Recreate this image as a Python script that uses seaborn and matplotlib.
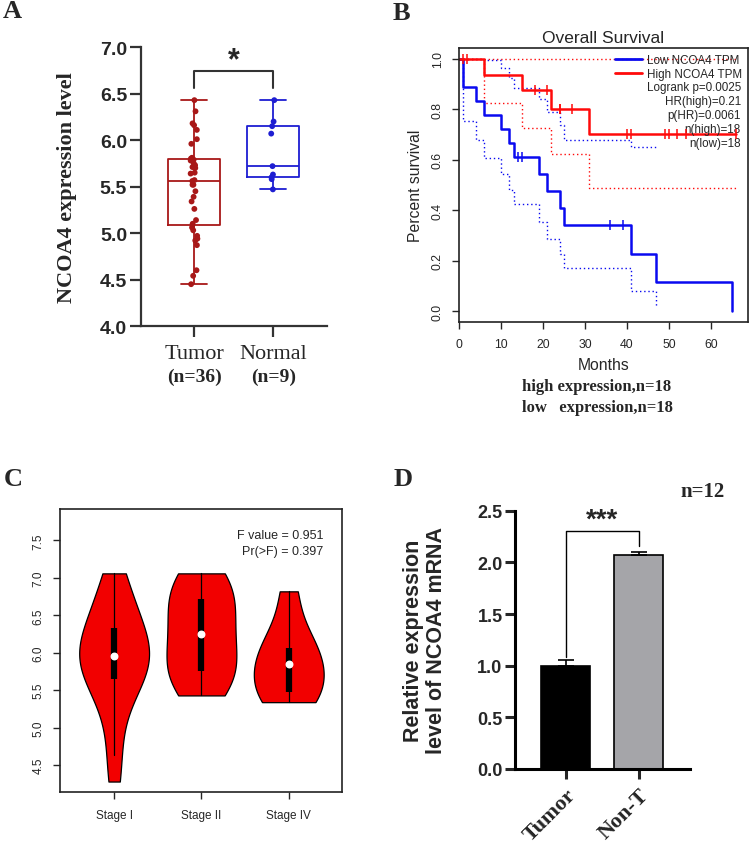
import numpy as np
import pandas as pd
import matplotlib
matplotlib.use('Agg')
import matplotlib.pyplot as plt
import seaborn as sns
from matplotlib.lines import Line2D
from matplotlib import cbook

sns.set_style('ticks')
plt.rcParams['font.family'] = ['Liberation Sans', 'DejaVu Sans']
SERIF = ['Liberation Serif', 'DejaVu Serif']

# ---- A: NCOA4 expression, tumor vs normal
groups_a = ['Tumor', 'Normal']
n_labels_a = ['(n=36)', '(n=9)']
tumor_expr = [6.43, 6.31, 6.18, 6.16, 6.11, 6.01, 5.96, 5.81, 5.80, 5.79, 5.78, 5.75,
              5.73, 5.71, 5.70, 5.65, 5.64, 5.57, 5.56, 5.52, 5.52, 5.45, 5.39, 5.34,
              5.26, 5.14, 5.10, 5.06, 5.03, 4.97, 4.94, 4.92, 4.87, 4.60, 4.54, 4.45]
normal_expr = [6.43, 6.20, 6.15, 6.07, 5.72, 5.63, 5.60, 5.58, 5.47]
colors_a = ['#A81818', '#1E1ED2']

# ---- B: overall survival (months, 1 = death, 0 = censored)
low_time = [1, 1, 4, 6, 10, 12, 13, 14, 15, 19, 21, 24, 25, 36, 39, 41, 47, 65]
low_event = [1, 1, 1, 1, 1, 1, 1, 0, 0, 1, 1, 1, 1, 0, 0, 1, 1, 1]
high_time = [1, 2, 6, 15, 18, 21, 22, 24, 24, 27, 31, 40, 41, 49, 50, 52, 54, 66]
high_event = [0, 0, 1, 1, 0, 0, 1, 0, 0, 0, 1, 0, 0, 0, 0, 0, 0, 0]
stats_b = ['Logrank p=0.0025', 'HR(high)=0.21', 'p(HR)=0.0061', 'n(high)=18', 'n(low)=18']

# ---- C: expression by stage
stages = ['Stage I', 'Stage II', 'Stage IV']
stage_i = [4.28, 4.64, 5.10, 5.40, 5.60, 5.67, 5.72, 5.80, 5.88, 5.93,
           5.99, 6.05, 6.12, 6.20, 6.30, 6.42, 6.55, 6.70, 6.88, 7.06]
stage_ii = [5.43, 5.58, 5.68, 5.76, 5.92, 6.08, 6.25, 6.38, 6.55, 6.72, 6.85, 6.96, 7.06]
stage_iv = [5.34, 5.40, 5.48, 5.65, 5.85, 5.95, 6.06, 6.30, 6.82]

# ---- D: qPCR
groups_d = ['Tumor', 'Non-T']
mrna_mean = [1.00, 2.07]
mrna_err = [0.055, 0.035]


def km_table(time, event):
    d = pd.DataFrame({'t': time, 'e': event}).sort_values('t')
    s, v = 1.0, 0.0
    steps = [(0.0, 1.0, 0.0)]
    cens = []
    for t, g in d.groupby('t'):
        n = (d['t'] >= t).sum()
        k = g['e'].sum()
        if k > 0:
            s *= 1 - k / n
            v = v + k / (n * (n - k)) if n > k else np.nan
            steps.append((t, s, v))
        for _ in range(int((g['e'] == 0).sum())):
            cens.append((t, s))
    steps.append((d['t'].max(), s, v))
    curve = pd.DataFrame(steps, columns=['t', 's', 'v'])
    se = np.sqrt(curve['v'])
    curve['lo'] = curve['s'] * np.exp(-1.96 * se)
    curve['hi'] = np.minimum(1.0, curve['s'] * np.exp(1.96 * se))
    return curve, pd.DataFrame(cens, columns=['t', 's'])


fig = plt.figure(figsize=(7.5, 8.45), dpi=100)

# ================= A =================
ax = fig.add_axes([0.188, 0.613, 0.248, 0.330])
df_a = pd.DataFrame({'group': ['Tumor'] * len(tumor_expr) + ['Normal'] * len(normal_expr),
                     'expr': tumor_expr + normal_expr})
sns.boxplot(data=df_a, x='group', y='expr', hue='group', order=groups_a, palette=colors_a,
            fill=False, whis=(0, 100), width=0.65, linewidth=1.3, showfliers=False,
            legend=False, ax=ax)
np.random.seed(3)
sns.stripplot(data=df_a, x='group', y='expr', hue='group', order=groups_a, palette=colors_a,
              jitter=0.045, size=4.2, legend=False, ax=ax, zorder=4)
ax.set_xlim(-0.67, 1.68)
ax.set_ylim(4.0, 7.0)
ax.set_yticks(np.arange(4.0, 7.01, 0.5))
ax.set_yticklabels([f'{t:.1f}' for t in np.arange(4.0, 7.01, 0.5)],
                   fontsize=14, fontweight='bold')
ax.set_xticks([0, 1])
ax.set_xticklabels([])
ax.set_xlabel('')
ax.set_ylabel('NCOA4 expression level', fontsize=16, fontweight='bold', family=SERIF)
ax.yaxis.set_label_coords(-0.344, 0.5)
sns.despine(ax=ax)
for sp in ['left', 'bottom']:
    ax.spines[sp].set_linewidth(1.6)
    ax.spines[sp].set_color('#333333')
ax.tick_params(length=8, width=1.6, color='#333333', pad=2)
for i, (g, nl) in enumerate(zip(groups_a, n_labels_a)):
    ax.text(i, -0.097, g, transform=ax.get_xaxis_transform(), ha='center', va='center',
            fontsize=16, family=SERIF)
    ax.text(i, -0.18, nl, transform=ax.get_xaxis_transform(), ha='center', va='center',
            fontsize=14, fontweight='bold', family=SERIF)
ax.plot([0, 0, 1, 1], [6.56, 6.74, 6.74, 6.56], color='#333333', lw=1.5, clip_on=False)
ax.text(0.5, 6.86, '*', ha='center', va='center', fontsize=22, fontweight='bold')

# ================= B =================
ax = fig.add_axes([0.612, 0.618, 0.385, 0.324])
low_curve, low_cens = km_table(low_time, low_event)
high_curve, high_cens = km_table(high_time, high_event)
blue, red = '#0A0AF0', '#FF0A0A'
for curve, col in [(high_curve, red), (low_curve, blue)]:
    ci = curve.dropna(subset=['lo'])
    ci = ci[ci['s'] > 0]
    for key in ['lo', 'hi']:
        sns.lineplot(data=ci, x='t', y=key, drawstyle='steps-post', estimator=None, sort=False,
                     color=col, lw=1.0, linestyle=(0, (1, 2)), ax=ax)
for curve, cens, col in [(low_curve, low_cens, blue), (high_curve, high_cens, red)]:
    sns.lineplot(data=curve, x='t', y='s', drawstyle='steps-post', estimator=None, sort=False,
                 color=col, lw=1.8, ax=ax)
    sns.scatterplot(data=cens, x='t', y='s', marker='|', s=55, linewidth=1.1, color=col,
                    ax=ax, zorder=5)
ax.set_xlim(0, 68.8)
ax.set_ylim(-0.043, 1.043)
ax.set_xticks(range(0, 61, 10))
ax.set_xticklabels([str(t) for t in range(0, 61, 10)], fontsize=8.8)
ax.set_yticks(np.arange(0, 1.01, 0.2))
ax.set_yticklabels([f'{t:.1f}' for t in np.arange(0, 1.01, 0.2)], fontsize=8.8,
                   rotation=90, va='center')
ax.tick_params(length=5, width=1, pad=6)
ax.tick_params(axis='x', pad=7)
for sp in ax.spines.values():
    sp.set_linewidth(1.2)
    sp.set_color('#222222')
ax.set_title('Overall Survival', fontsize=12.5, pad=4)
ax.set_xlabel('Months', fontsize=11.3, labelpad=5)
ax.set_ylabel('Percent survival', fontsize=11.3, labelpad=6)
handles = [Line2D([], [], color=blue, lw=2), Line2D([], [], color=red, lw=2)]
ax.legend(handles, ['Low NCOA4 TPM', 'High NCOA4 TPM'], loc='upper right', frameon=False,
          fontsize=8.4, handlelength=2.3, handletextpad=0.4, labelspacing=0.15,
          borderaxespad=0.3, borderpad=0.2)
for i, line in enumerate(stats_b):
    ax.text(0.976, 0.858 - i * 0.0515, line, ha='right', va='center', fontsize=8.4,
            transform=ax.transAxes)

fig.text(522 / 750, 1 - 387 / 845, 'high expression,n=18', ha='left', va='center',
         fontsize=12, fontweight='bold', family=SERIF)
fig.text(522 / 750, 1 - 408 / 845, 'low   expression,n=18', ha='left', va='center',
         fontsize=12, fontweight='bold', family=SERIF)

# ================= C =================
ax = fig.add_axes([0.08, 0.0615, 0.376, 0.335])
df_c = pd.DataFrame({'stage': ['Stage I'] * len(stage_i) + ['Stage II'] * len(stage_ii)
                     + ['Stage IV'] * len(stage_iv),
                     'expr': stage_i + stage_ii + stage_iv})
sns.violinplot(data=df_c, x='stage', y='expr', order=stages, inner=None, cut=0,
               density_norm='width', width=0.8, color='#F20000', saturation=1,
               linecolor='black', linewidth=0.9, bw_adjust=1.06, ax=ax)
for i, vals in enumerate([stage_i, stage_ii, stage_iv]):
    st = cbook.boxplot_stats(np.array(vals))[0]
    ax.plot([i, i], [st['whislo'], st['whishi']], color='black', lw=0.9)
    ax.plot([i, i], [st['q1'], st['q3']], color='black', lw=4.5, solid_capstyle='butt')
    ax.scatter([i], [st['med']], s=22, color='white', zorder=5)
ax.set_xlim(-0.62, 2.61)
ax.set_ylim(4.14, 7.92)
ax.set_yticks(np.arange(4.5, 7.51, 0.5))
ax.set_yticklabels([f'{t:.1f}' for t in np.arange(4.5, 7.51, 0.5)], fontsize=8.5,
                   rotation=90, va='center')
ax.tick_params(axis='x', labelsize=8.5, length=5, width=1, pad=7)
ax.tick_params(axis='y', length=5, width=1, pad=6)
ax.set_xlabel('')
ax.set_ylabel('')
for sp in ax.spines.values():
    sp.set_linewidth(1.2)
    sp.set_color('#222222')
ax.text(0.933, 0.908, 'F value = 0.951', ha='right', va='center', fontsize=9,
        transform=ax.transAxes)
ax.text(0.933, 0.851, 'Pr(>F) = 0.397', ha='right', va='center', fontsize=9,
        transform=ax.transAxes)

# ================= D =================
ax = fig.add_axes([0.6867, 0.0888, 0.2333, 0.3056])
sns.barplot(x=groups_d, y=mrna_mean, hue=groups_d, palette=['black', '#A5A5A9'],
            edgecolor='black', linewidth=1.2, width=0.67, saturation=1, legend=False, ax=ax)
ax.errorbar(range(len(groups_d)), mrna_mean, yerr=[[0] * len(mrna_err), mrna_err],
            fmt='none', ecolor='black', elinewidth=1.2, capsize=5.5, capthick=1.2, zorder=3)
ax.set_xlim(-0.69, 1.70)
ax.set_ylim(0, 2.5)
ax.set_yticks(np.arange(0, 2.51, 0.5))
ax.set_yticklabels([f'{t:.1f}' for t in np.arange(0, 2.51, 0.5)], fontsize=13,
                   fontweight='bold')
ax.set_xticks([0, 1])
ax.set_xticklabels(groups_d, rotation=45, ha='right', rotation_mode='anchor',
                   fontsize=16, fontweight='bold', family=SERIF)
sns.despine(ax=ax)
for sp in ['left', 'bottom']:
    ax.spines[sp].set_linewidth(2.2)
    ax.spines[sp].set_color('black')
ax.tick_params(length=7, width=2.2, pad=2)
ax.tick_params(axis='x', pad=4)
ax.set_ylabel('Relative expression\nlevel of NCOA4 mRNA', fontsize=15.5, fontweight='bold',
              linespacing=1.15)
ax.yaxis.set_label_coords(-0.389, 0.5)
ax.plot([0, 0, 1, 1], [1.08, 2.30, 2.30, 2.16], color='black', lw=1.0, clip_on=False)
ax.text(0.5, 2.41, '***', ha='center', va='center', fontsize=20, fontweight='bold',
        clip_on=False)

fig.text(703 / 750, 1 - 492 / 845, 'n=12', ha='center', va='center', fontsize=15,
         fontweight='bold', family=SERIF)

# panel letters
for letter, (x, y) in {'A': (12, 12), 'B': (401, 13), 'C': (13, 480), 'D': (403, 480)}.items():
    fig.text(x / 750, 1 - y / 845, letter, ha='center', va='center', fontsize=19,
             fontweight='bold', family=SERIF)

fig.savefig('out.png', dpi=100)
